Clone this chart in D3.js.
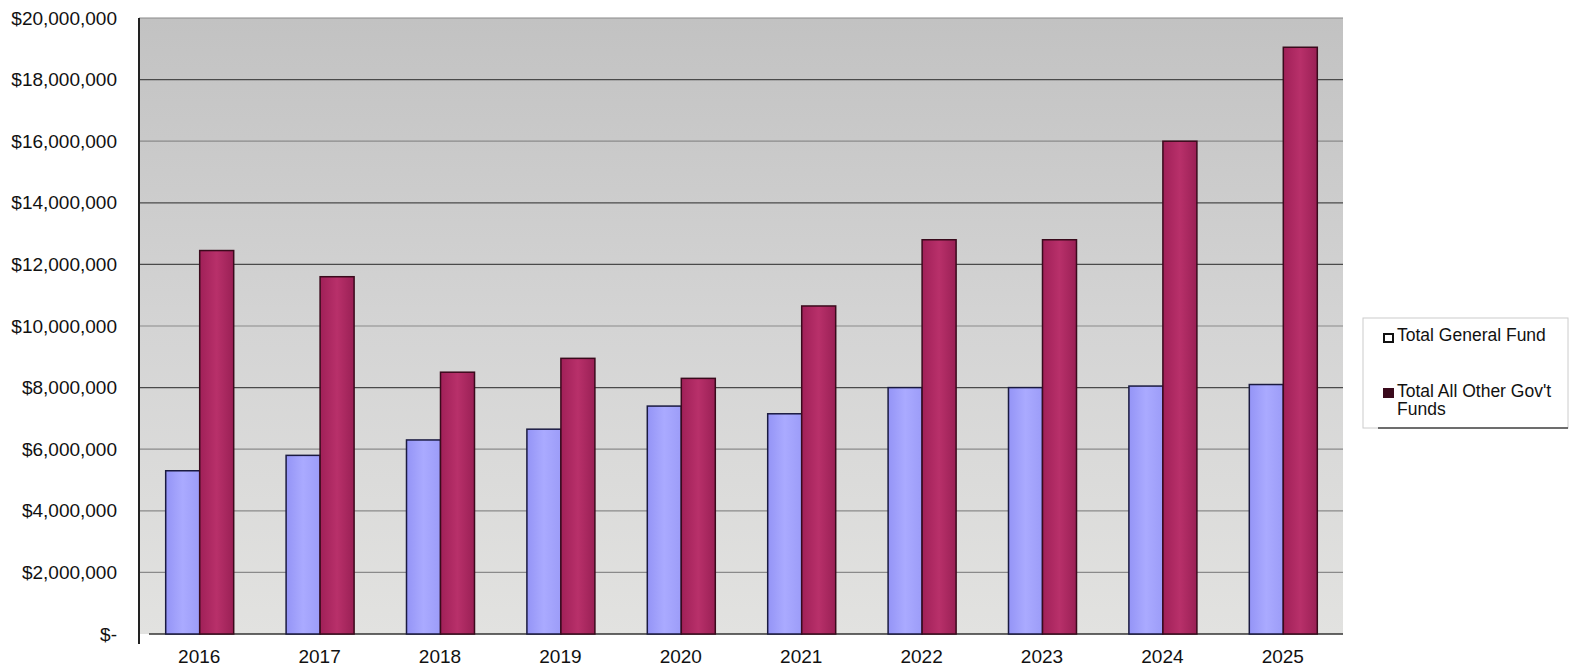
<!DOCTYPE html>
<html><head><meta charset="utf-8">
<script src="https://cdn.jsdelivr.net/npm/d3@7"></script>
<style>body{margin:0;background:#fff}svg{display:block;font-family:"Liberation Sans",Arial,sans-serif}</style>
</head><body><svg id="c" width="1572" height="669"></svg>
<script>
const years = ["2016","2017","2018","2019","2020","2021","2022","2023","2024","2025"];
const generalFund = [5300000,5800000,6300000,6650000,7400000,7150000,8000000,8000000,8050000,8100000];
const otherGovFunds = [12450000,11600000,8500000,8950000,8300000,10650000,12800000,12800000,16000000,19050000];
const yTicks = [0,2000000,4000000,6000000,8000000,10000000,12000000,14000000,16000000,18000000,20000000];
const seriesNames = ["Total General Fund","Total All Other Gov't Funds"];

const svg = d3.select("#c");
const m = {l:139, r:1343, t:18, b:634};
const x = d3.scaleBand().domain(years).range([m.l, m.r]);
const y = d3.scaleLinear().domain([0,20000000]).range([m.b, m.t]);

const defs = svg.append("defs");
const bg = defs.append("linearGradient").attr("id","bg").attr("x1",0).attr("x2",0).attr("y1",0).attr("y2",1);
bg.append("stop").attr("offset","0%").attr("stop-color","#c2c2c2");
bg.append("stop").attr("offset","50%").attr("stop-color","#d4d4d4");
bg.append("stop").attr("offset","100%").attr("stop-color","#e2e2e0");
const gb = defs.append("linearGradient").attr("id","gb").attr("x1",0).attr("x2",1);
gb.append("stop").attr("offset","0%").attr("stop-color","#9494f6");
gb.append("stop").attr("offset","50%").attr("stop-color","#aaaaff");
gb.append("stop").attr("offset","100%").attr("stop-color","#9c9cf8");
const gr = defs.append("linearGradient").attr("id","gr").attr("x1",0).attr("x2",1);
gr.append("stop").attr("offset","0%").attr("stop-color","#a02058");
gr.append("stop").attr("offset","50%").attr("stop-color","#b8306a");
gr.append("stop").attr("offset","100%").attr("stop-color","#9a2055");

svg.append("rect").attr("x",m.l).attr("y",m.t).attr("width",m.r-m.l).attr("height",m.b-m.t).attr("fill","url(#bg)");

// gridlines
svg.append("g").selectAll("line").data(yTicks.filter(d=>d>0)).join("line")
  .attr("x1",m.l).attr("x2",m.r).attr("y1",d=>y(d)).attr("y2",d=>y(d))
  .attr("stroke",d=>[8e6,12e6,14e6,18e6].includes(d)?"#4a4a4a":"#8a8a8a").attr("stroke-width",1.2);

// y axis
const ya = svg.append("g").attr("transform",`translate(${m.l},0)`)
  .call(d3.axisLeft(y).tickValues(yTicks).tickSize(0).tickPadding(22)
    .tickFormat(d=> d===0 ? "$-" : "$"+d3.format(",")(d)));
ya.select(".domain").remove();
ya.selectAll("text").attr("font-size",19).attr("fill","#111").attr("font-family","Liberation Sans, Arial, sans-serif");
svg.append("line").attr("x1",m.l).attr("x2",m.l).attr("y1",m.t).attr("y2",m.b+10).attr("stroke","#222").attr("stroke-width",2);

// x axis
const xa = svg.append("g").attr("transform",`translate(0,${m.b})`)
  .call(d3.axisBottom(x).tickSize(0).tickPadding(16));
xa.select(".domain").remove();
xa.selectAll("text").attr("font-size",19).attr("fill","#111").attr("font-family","Liberation Sans, Arial, sans-serif");
svg.append("line").attr("x1",m.l+10).attr("x2",m.r).attr("y1",m.b).attr("y2",m.b).attr("stroke","#333").attr("stroke-width",1.5);

const bw = 34;
const g = svg.append("g");
g.selectAll(".gf").data(years).join("rect").attr("class","gf")
  .attr("x",d=>x(d)+x.bandwidth()/2-bw+0.5).attr("width",bw)
  .attr("y",(d,i)=>y(generalFund[i])).attr("height",(d,i)=>y(0)-y(generalFund[i]))
  .attr("fill","url(#gb)").attr("stroke","#1a1a40").attr("stroke-width",1.5);
g.selectAll(".of").data(years).join("rect").attr("class","of")
  .attr("x",d=>x(d)+x.bandwidth()/2+0.5).attr("width",bw)
  .attr("y",(d,i)=>y(otherGovFunds[i])).attr("height",(d,i)=>y(0)-y(otherGovFunds[i]))
  .attr("fill","url(#gr)").attr("stroke","#3a0a1c").attr("stroke-width",1.5);

// legend
const lg = svg.append("g");
lg.append("rect").attr("x",1363).attr("y",318).attr("width",205).attr("height",110).attr("fill","#fff").attr("stroke","#ccc");
lg.append("line").attr("x1",1378).attr("x2",1568).attr("y1",428).attr("y2",428).attr("stroke","#444").attr("stroke-width",1.5);
lg.append("rect").attr("x",1384).attr("y",334).attr("width",9).attr("height",8).attr("fill","#fff").attr("stroke","#111").attr("stroke-width",2);
lg.append("text").attr("x",1397).attr("y",341).attr("font-size",17.5).attr("fill","#111").text(seriesNames[0]);
lg.append("rect").attr("x",1383).attr("y",388).attr("width",11).attr("height",10).attr("fill","#3a0a1c");
const t2 = lg.append("text").attr("x",1397).attr("y",397).attr("font-size",17.5).attr("fill","#111");
t2.append("tspan").text("Total All Other Gov't");
t2.append("tspan").attr("x",1397).attr("dy",18).text("Funds");
</script></body></html>
